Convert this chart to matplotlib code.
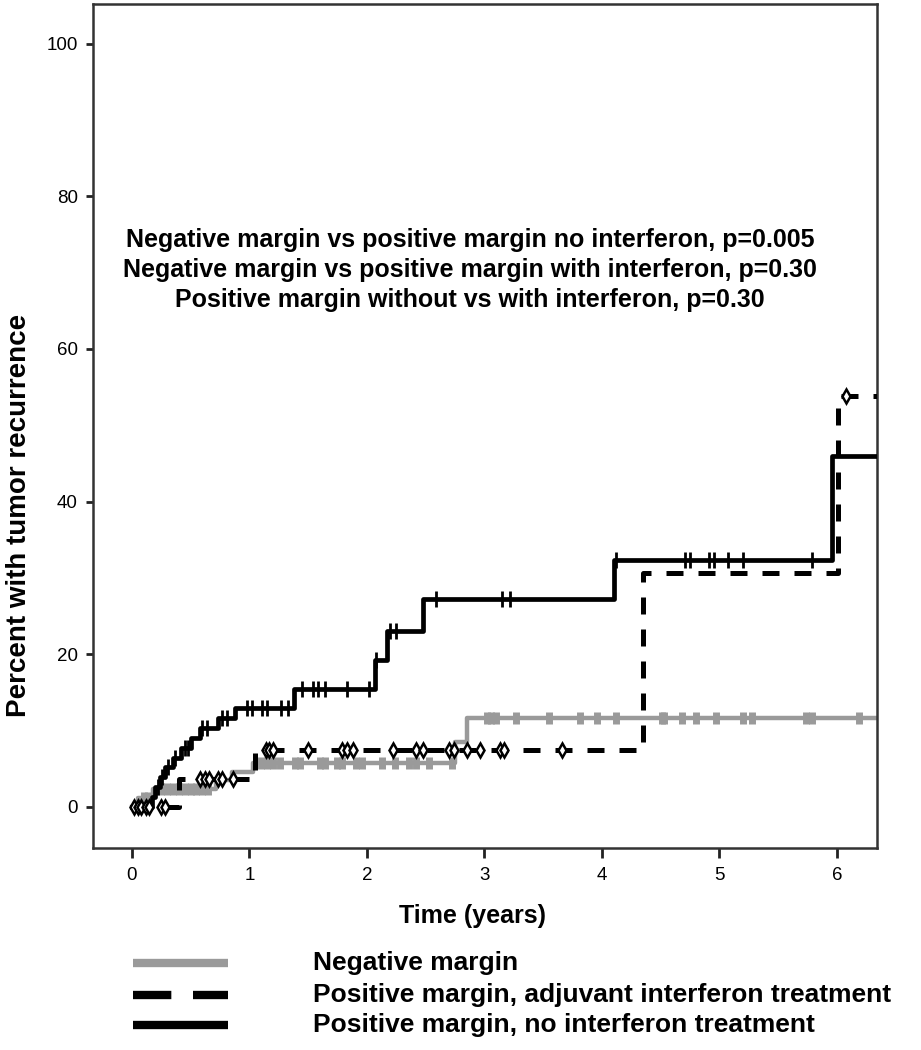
import numpy as np
import matplotlib
matplotlib.use("Agg")
import matplotlib.pyplot as plt
from matplotlib.lines import Line2D

# ---------------- data ----------------
neg_times = [0, 0.05, 0.18, 0.72, 0.85, 1.03, 2.75, 2.85, 6.34]
neg_values = [0, 1.2, 2.3, 3.5, 4.6, 5.7, 8.5, 11.6, 11.6]
neg_censor = [0.10, 0.14, 0.25, 0.30, 0.35, 0.40, 0.45, 0.50, 0.55, 0.60, 0.65,
              1.10, 1.15, 1.20, 1.26, 1.39, 1.43, 1.60, 1.64, 1.75, 1.79, 1.91,
              1.96, 2.13, 2.24, 2.36, 2.42, 2.53, 2.72, 3.02, 3.06, 3.10, 3.27,
              3.55, 3.81, 3.96, 4.12, 4.51, 4.53, 4.68, 4.80, 4.97, 5.20, 5.28,
              5.74, 5.79, 6.19]

ifn_times = [0, 0.40, 1.05, 4.35, 6.01, 6.34]
ifn_values = [0, 3.7, 7.5, 30.6, 53.8, 53.8]
ifn_censor = [0.02, 0.05, 0.08, 0.12, 0.15, 0.25, 0.28, 0.58, 0.62, 0.66, 0.73,
              0.77, 0.86, 1.14, 1.17, 1.20, 1.50, 1.79, 1.83, 1.88, 2.22, 2.42,
              2.48, 2.70, 2.74, 2.85, 2.96, 3.13, 3.17, 3.66, 6.08]

noifn_times = [0, 0.17, 0.20, 0.24, 0.28, 0.35, 0.42, 0.50, 0.58, 0.73, 0.88,
               1.38, 2.07, 2.17, 2.48, 4.10, 5.96, 6.34]
noifn_values = [0, 1.3, 2.6, 3.9, 5.2, 6.4, 7.7, 9.0, 10.3, 11.6, 12.9,
                15.5, 19.2, 23.0, 27.2, 32.4, 46.0, 46.0]
noifn_censor = [0.22, 0.26, 0.31, 0.37, 0.45, 0.48, 0.60, 0.64, 0.77, 0.81,
                0.98, 1.02, 1.11, 1.15, 1.27, 1.33, 1.45, 1.54, 1.58, 1.64,
                1.83, 2.02, 2.08, 2.20, 2.25, 2.59, 3.15, 3.22, 4.12, 4.71,
                4.75, 4.91, 4.95, 5.07, 5.20, 5.79]

x_ticks = [0, 1, 2, 3, 4, 5, 6]
y_ticks = [0, 20, 40, 60, 80, 100]

annot_lines = ["Negative margin vs positive margin no interferon, p=0.005",
               "Negative margin vs positive margin with interferon, p=0.30",
               "Positive margin without vs with interferon, p=0.30"]
legend_labels = ["Negative margin",
                 "Positive margin, adjuvant interferon treatment",
                 "Positive margin, no interferon treatment"]

FONT = ["Liberation Sans", "DejaVu Sans"]


def step_at(times, values, t):
    idx = np.searchsorted(np.asarray(times), np.asarray(t), side="right") - 1
    return np.asarray(values)[idx]


W, H = 921, 1050
fig = plt.figure(figsize=(W / 100, H / 100), dpi=100)
ax = fig.add_axes([93 / W, 1 - 848 / H, 784 / W, 844 / H])

GRAY = "#9a9a9a"
# Negative margin
ax.step(neg_times, neg_values, where="post", color=GRAY, lw=3.2, zorder=2)
ax.plot(neg_censor, step_at(neg_times, neg_values, neg_censor), ls="none",
        marker="|", ms=9, mew=5, color=GRAY, zorder=2)
# Positive margin with IFN (dashed)
ax.step(ifn_times, ifn_values, where="post", color="black", lw=3.6,
        dashes=(3.4, 3.0), zorder=3)
ax.plot(ifn_censor, step_at(ifn_times, ifn_values, ifn_censor), ls="none",
        marker="d", ms=7.5, mew=1.8, mfc="white", mec="black", zorder=4)
# Positive margin no IFN (solid)
ax.step(noifn_times, noifn_values, where="post", color="black", lw=3.4, zorder=3)
ax.plot(noifn_censor, step_at(noifn_times, noifn_values, noifn_censor), ls="none",
        marker="|", ms=11, mew=2, color="black", zorder=4)

ax.set_xlim(-0.33, 6.34)
ax.set_ylim(-5.4, 105.2)
ax.set_xticks(x_ticks)
ax.set_yticks(y_ticks)
ax.set_xticklabels([str(v) for v in x_ticks], fontsize=13.5, family=FONT)
ax.set_yticklabels([str(v) for v in y_ticks], fontsize=13.5, family=FONT)
ax.tick_params(axis="x", length=7, width=2, color="#222222", pad=7)
ax.tick_params(axis="y", length=5, width=2, color="#222222", pad=6)
for s in ax.spines.values():
    s.set_linewidth(1.8)
    s.set_color("#333333")

ax.set_ylabel("Percent with tumor recurrence", fontsize=20, fontweight="bold",
              family=FONT, va="center", ha="center")
ax.yaxis.set_label_coords((19 - 93) / 784, (848 - 515) / 844)
ax.set_xlabel("Time (years)", fontsize=18, fontweight="bold", family=FONT,
              va="center")
ax.xaxis.set_label_coords((472 - 93) / 784, -(916 - 848) / 844)

for i, line in enumerate(annot_lines):
    ax.text((470 - 93) / 784, (848 - 240 - i * 30) / 844, line,
            transform=ax.transAxes, ha="center", va="center", fontsize=18,
            fontweight="bold", family=FONT)

# legend (drawn in figure coordinates, below the axes)
leg_y = [963, 995, 1025]
leg_styles = [dict(color=GRAY, lw=6),
              dict(color="black", lw=6, dashes=(4.6, 2.6)),
              dict(color="black", lw=6)]
for yy, lab, st in zip(leg_y, legend_labels, leg_styles):
    fig.add_artist(Line2D([133 / W, 228 / W], [1 - yy / H, 1 - yy / H],
                          transform=fig.transFigure, solid_capstyle="butt",
                          dash_capstyle="butt", **st))
    fig.text(313 / W, 1 - yy / H, lab, ha="left", va="center", fontsize=19,
             fontweight="bold", family=FONT)

fig.savefig("out.png", dpi=100)
